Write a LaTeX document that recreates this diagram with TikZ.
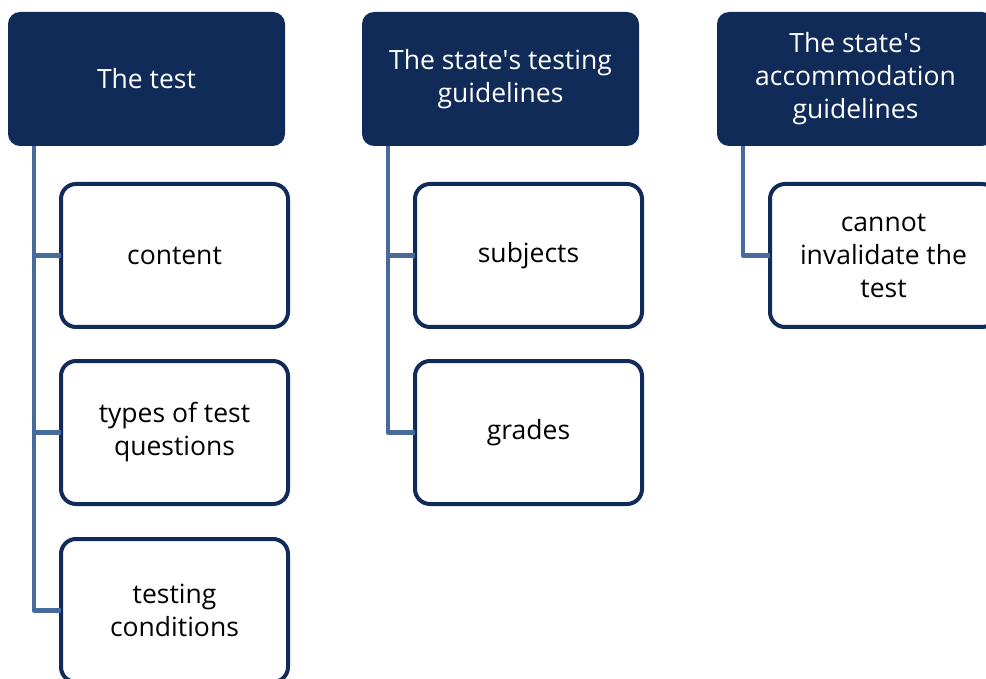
\documentclass[tikz,border=0pt]{standalone}
\usepackage{fontspec}
\setmainfont{Open Sans}
\usetikzlibrary{positioning}
\definecolor{navy}{HTML}{112B59}
\definecolor{steel}{HTML}{476B9D}
\begin{document}
\begin{tikzpicture}[x=1pt, y=-1pt, line join=round,
	head/.style={fill=navy, rounded corners=12pt, minimum width=277pt, minimum height=134pt, align=center, text=white, inner sep=0pt, outer sep=0pt, font=\fontsize{26.5}{33}\selectfont},
	item/.style={draw=navy, line width=4pt, fill=white, rounded corners=15pt, minimum width=227pt, minimum height=143pt, align=center, inner sep=0pt, outer sep=0pt, font=\fontsize{26.5}{33}\selectfont},
	branch/.style={draw=steel, line width=4.5pt}]
		\useasboundingbox (0,0) rectangle (986,679);
		\clip (0,0) rectangle (986,679);
		% top row
		\node[head] (test) at (146.5,79) {The test};
		\node[head, right=77pt of test] (testing) {The state\textquotesingle s testing\\guidelines};
		\node[head, right=78pt of testing] (accom) {The state\textquotesingle s\\accommodation\\guidelines};
		% first column
		\node[item, anchor=north west] (content) at ([shift={(53,38)}]test.south west) {content};
		\node[item, below=34pt of content] (types) {types of test\\questions};
		\node[item, below=35pt of types] (cond) {testing\\conditions};
		% second column
		\node[item, anchor=north west] (subj) at ([shift={(53,38)}]testing.south west) {subjects};
		\node[item, below=34pt of subj] (grades) {grades};
		% third column
		\node[item, anchor=north west] (invalid) at ([shift={(53,38)}]accom.south west) {cannot\\invalidate the\\test};
		% connectors
		\foreach \h/\c in {test/content, test/types, test/cond, testing/subj, testing/grades, accom/invalid}
			\draw[branch] ([xshift=26pt]\h.south west) |- (\c.west);
\end{tikzpicture}
\end{document}
